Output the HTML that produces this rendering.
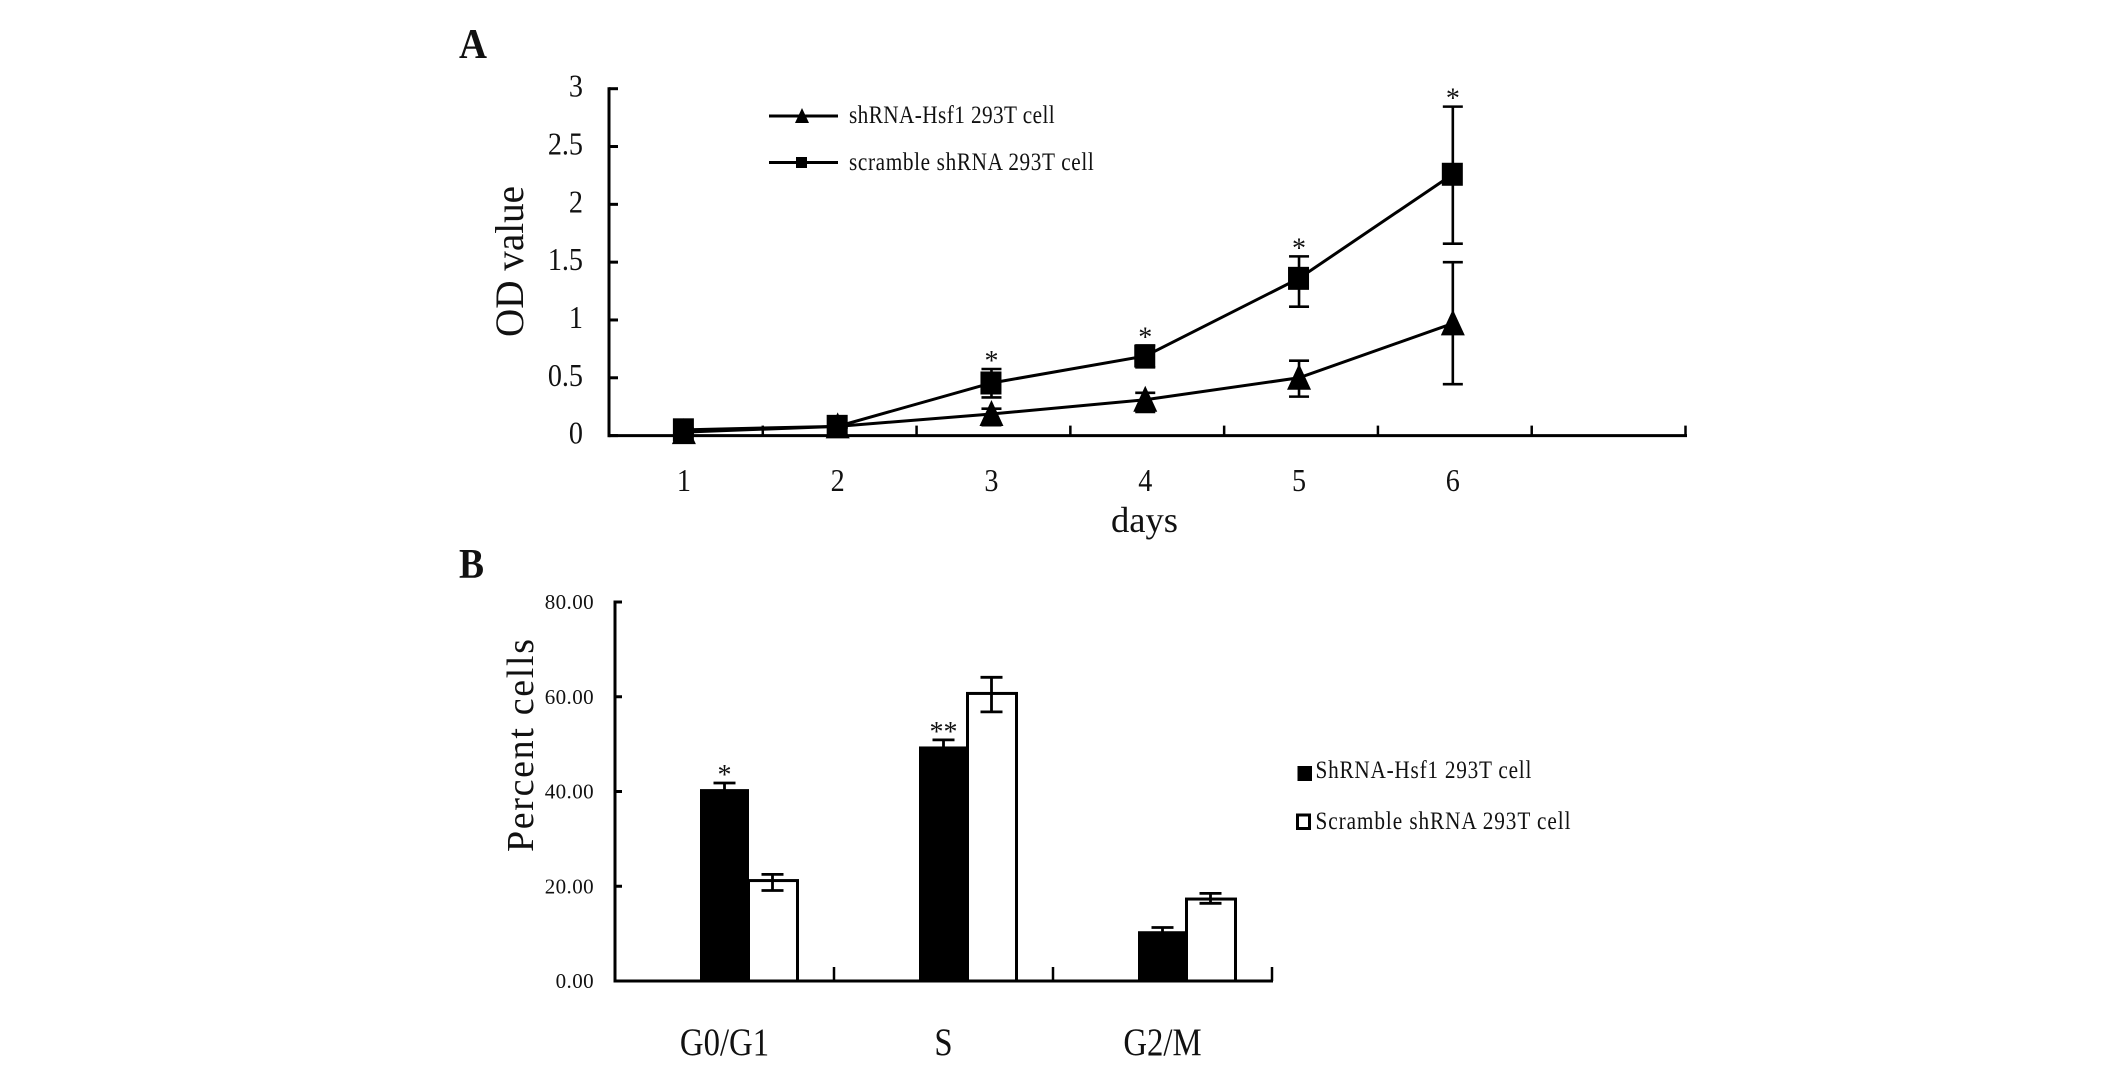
<!DOCTYPE html>
<html lang="en">
<head>
<meta charset="utf-8">
<title>OD value and cell cycle charts</title>
<style>
html,body{margin:0;padding:0;background:#fff;width:2126px;height:1066px;overflow:hidden}
svg{display:block}
text{font-family:"Liberation Serif",serif;fill:#111}
</style>
</head>
<body>
<svg id="fig" xmlns="http://www.w3.org/2000/svg" width="2126" height="1066" viewBox="0 0 2126 1066">
  <rect width="2126" height="1066" fill="#fff"/>

  <text x="459" y="58" font-size="42" font-weight="bold" textLength="28" lengthAdjust="spacingAndGlyphs">A</text>
  <text transform="translate(523,337) rotate(-90)" font-size="40" textLength="151" lengthAdjust="spacingAndGlyphs">OD value</text>
  <text x="1111" y="532" font-size="36" textLength="67" lengthAdjust="spacingAndGlyphs">days</text>
  <g id="chartA"></g>

  <g>
    <line x1="769" x2="838" y1="116" y2="116" stroke="#000" stroke-width="3"/>
    <polygon points="802,108 809,123 795,123" fill="#000"/>
    <text transform="translate(849,123) scale(.85,1)" font-size="25" textLength="242">shRNA-Hsf1 293T cell</text>
    <line x1="769" x2="838" y1="162.500" y2="162.500" stroke="#000" stroke-width="3"/>
    <rect x="796" y="157" width="11" height="11" fill="#000"/>
    <text transform="translate(849,170) scale(.85,1)" font-size="25" textLength="288">scramble shRNA 293T cell</text>
  </g>

  <text x="459" y="578" font-size="42" font-weight="bold" textLength="25" lengthAdjust="spacingAndGlyphs">B</text>
  <text transform="translate(533,852) rotate(-90)" font-size="38" textLength="213">Percent cells</text>
  <g id="chartB"></g>

  <g>
    <rect x="1297.500" y="766" width="14.500" height="15" fill="#000"/>
    <text transform="translate(1315.500,778) scale(.85,1)" font-size="25" textLength="254">ShRNA-Hsf1 293T cell</text>
    <rect x="1297.500" y="815" width="12" height="13.500" fill="#fff" stroke="#000" stroke-width="3"/>
    <text transform="translate(1315.500,829) scale(.85,1)" font-size="25" textLength="300">Scramble shRNA 293T cell</text>
  </g>
</svg>
<script>
// Panel A data
const days = ['1', '2', '3', '4', '5', '6'];
const odTicks = [0, 0.5, 1, 1.5, 2, 2.5, 3];
const shrnaOD = [0.03, 0.08, 0.187, 0.31, 0.5, 0.97];
const shrnaUpper = [0.04, 0.09, 0.233, 0.37, 0.648, 1.5];
const shrnaLower = [0.02, 0.07, 0.09, 0.205, 0.337, 0.445];
const scrambleOD = [0.05, 0.08, 0.455, 0.688, 1.36, 2.26];
const scrambleUpper = [0.06, 0.09, 0.576, 0.78, 1.55, 2.845];
const scrambleLower = [0.04, 0.07, 0.33, 0.59, 1.115, 1.66];
const odSignificance = ['', '', '*', '*', '*', '*'];

// Panel B data
const phases = ['G0/G1', 'S', 'G2/M'];
const percentTicks = ['0.00', '20.00', '40.00', '60.00', '80.00'];
const shrnaPercent = [40.4, 49.4, 10.4];
const shrnaPercentUpper = [41.8, 50.9, 11.3];
const shrnaPercentLower = [39.5, 48.8, 10];
const scramblePercent = [21.2, 60.7, 17.3];
const scramblePercentUpper = [22.5, 64.1, 18.5];
const scramblePercentLower = [19.1, 56.8, 16.4];
const percentSignificance = ['*', '**', ''];

const NS = 'http://www.w3.org/2000/svg';
function make(parent, tag, attrs, text) {
  const node = document.createElementNS(NS, tag);
  for (const k in attrs) node.setAttribute(k, attrs[k]);
  if (text !== undefined) node.textContent = text;
  parent.appendChild(node);
  return node;
}

// Panel A scales
const aLeft = 609, aBase = 435.6, aTop = 88.7, aRight = 1685.5, aMax = 3, aSlots = 7;
const aStep = (aRight - aLeft) / aSlots;
const xA = i => aLeft + aStep * (i + 0.5) - 2;
const yA = v => aBase - (aBase - aTop) * v / aMax;

const gA = document.getElementById('chartA');

let el = make(gA, 'line', {x1: aLeft, x2: aLeft, y1: aTop - 1.5, y2: aBase + 1.5, stroke: '#000', 'stroke-width': 3});


el = make(gA, 'line', {x1: aLeft - 1.5, x2: aRight + 1.5, y1: aBase, y2: aBase, stroke: '#000', 'stroke-width': 3});



odTicks.forEach(t => {
  const tick = make(gA, 'line', {x1: aLeft, x2: aLeft + 9, y1: yA(t), y2: yA(t), stroke: '#000', 'stroke-width': 3});
  
  
  const label = make(gA, 'text', {x: 0, y: 0, 'font-size': 32, 'text-anchor': 'end', transform: 'translate(583,' + (yA(t) + 8) + ') scale(.88,1)'}, String(t));
  
  
});
for (let i = 1; i <= aSlots; i++) {
  const tick = make(gA, 'line', {x1: aLeft + aStep * i, x2: aLeft + aStep * i, y1: aBase, y2: aBase - 10, stroke: '#000', 'stroke-width': 2.5});
  
  
}
days.forEach((d, i) => {
  const label = make(gA, 'text', {x: 0, y: 0, 'font-size': 32, 'text-anchor': 'middle', transform: 'translate(' + xA(i) + ',491) scale(.88,1)'}, d);
  
  
});

function errorBarA(i, up, low) {
  const x = xA(i), cap = 10;
  const bar = make(gA, 'path', {
    d: 'M' + x + ' ' + yA(up) + 'V' + yA(low) +
       'M' + (x - cap) + ' ' + yA(up) + 'H' + (x + cap) +
       'M' + (x - cap) + ' ' + yA(low) + 'H' + (x + cap),
    stroke: '#000', 'stroke-width': 2.6, fill: 'none'
  });
  
  
}
shrnaOD.forEach((v, i) => errorBarA(i, shrnaUpper[i], shrnaLower[i]));
scrambleOD.forEach((v, i) => errorBarA(i, scrambleUpper[i], scrambleLower[i]));

const shrnaLine = make(gA, 'polyline', {points: shrnaOD.map((v, i) => xA(i) + ',' + yA(v)).join(' '), fill: 'none', stroke: '#000', 'stroke-width': 3});


const scrambleLine = make(gA, 'polyline', {points: scrambleOD.map((v, i) => xA(i) + ',' + yA(v)).join(' '), fill: 'none', stroke: '#000', 'stroke-width': 3});



shrnaOD.forEach((v, i) => {
  const x = xA(i), y = yA(v);
  const p = make(gA, 'polygon', {points: x + ',' + (y - 14) + ' ' + (x + 12) + ',' + (y + 12) + ' ' + (x - 12) + ',' + (y + 12), fill: '#000'});
  
  
});
scrambleOD.forEach((v, i) => {
  const p = make(gA, 'rect', {x: xA(i) - 11, y: yA(v) - 11.5, width: 21, height: 23, fill: '#000'});
  
  
});
odSignificance.forEach((s, i) => {
  if (!s) return;
  const m = make(gA, 'text', {x: xA(i), y: yA(scrambleUpper[i]) - 12 + 13, 'font-size': 28, 'text-anchor': 'middle'}, s);
  
  
});

// Panel B scales
const bLeft = 615, bBase = 981, bTop = 602, bRight = 1272, bMax = 80;
const bStep = (bRight - bLeft) / phases.length;
const xB = i => bLeft + bStep * (i + 0.5) + 24;
const yB = v => bBase - (bBase - bTop) * v / bMax;
const barW = 48;

const gB = document.getElementById('chartB');

shrnaPercent.forEach((v, i) => {
  const b = make(gB, 'rect', {x: xB(i) - barW, y: yB(v), width: barW, height: bBase - yB(v), fill: '#000', stroke: '#000', 'stroke-width': 1});
  
  
});
scramblePercent.forEach((v, i) => {
  const b = make(gB, 'rect', {x: xB(i), y: yB(v), width: barW + 1, height: bBase - yB(v), fill: '#fff', stroke: '#000', 'stroke-width': 3});
  
  
});

function errorBarB(x, up, low) {
  const cap = 11;
  const bar = make(gB, 'path', {
    d: 'M' + x + ' ' + yB(up) + 'V' + yB(low) +
       'M' + (x - cap) + ' ' + yB(up) + 'H' + (x + cap) +
       'M' + (x - cap) + ' ' + yB(low) + 'H' + (x + cap),
    stroke: '#000', 'stroke-width': 2.8, fill: 'none'
  });
  
  
}
shrnaPercent.forEach((v, i) => errorBarB(xB(i) - barW / 2, shrnaPercentUpper[i], shrnaPercentLower[i]));
scramblePercent.forEach((v, i) => errorBarB(xB(i) + barW / 2, scramblePercentUpper[i], scramblePercentLower[i]));

el = make(gB, 'line', {x1: bLeft, x2: bLeft, y1: bTop - 1.5, y2: bBase + 1.5, stroke: '#000', 'stroke-width': 3});


el = make(gB, 'line', {x1: bLeft - 1.5, x2: bRight + 1, y1: bBase, y2: bBase, stroke: '#000', 'stroke-width': 3});



percentTicks.forEach(t => {
  const y = yB(parseFloat(t));
  const tick = make(gB, 'line', {x1: bLeft, x2: bLeft + 7, y1: y, y2: y, stroke: '#000', 'stroke-width': 3});
  
  
  const label = make(gB, 'text', {x: 594, y: y + 7, 'font-size': 21, 'text-anchor': 'end', 'letter-spacing': 0.4}, t);
  
  
});
for (let i = 1; i <= phases.length; i++) {
  const tick = make(gB, 'line', {x1: bLeft + bStep * i, x2: bLeft + bStep * i, y1: bBase, y2: bBase - 14, stroke: '#000', 'stroke-width': 2.5});
  
  
}
phases.forEach((p, i) => {
  const label = make(gB, 'text', {x: 0, y: 0, 'font-size': 39, 'text-anchor': 'middle', transform: 'translate(' + (xB(i) - 24) + ',1055) scale(.84,1)'}, p);
  
  
});
percentSignificance.forEach((s, i) => {
  if (!s) return;
  const m = make(gB, 'text', {x: xB(i) - barW / 2, y: yB(shrnaPercentUpper[i]) - 12 + 13, 'font-size': 28, 'text-anchor': 'middle'}, s);
  
  
});
</script>
</body>
</html>
